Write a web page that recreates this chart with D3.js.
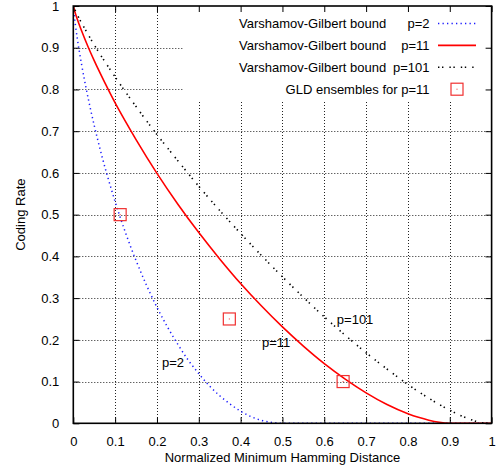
<!DOCTYPE html>
<html><head><meta charset="utf-8">
<script src="https://cdn.jsdelivr.net/npm/d3@7"></script>
<style>
html,body{margin:0;padding:0;background:#fff;}
svg text{font-family:"Liberation Sans",Arial,sans-serif;font-size:13px;fill:#000;}
</style></head>
<body><svg id="chart" width="502" height="470"></svg>
<script>
// ---- data ----
const distP2 = [0, 0.002, 0.005, 0.01, 0.02, 0.03, 0.04, 0.05, 0.06, 0.07, 0.08, 0.09, 0.1, 0.125, 0.15, 0.175, 0.2, 0.225, 0.25, 0.275, 0.3, 0.325, 0.35, 0.375, 0.4, 0.425, 0.45, 0.475, 0.5, 1.0];
const rateP2 = [1, 0.979, 0.955, 0.919, 0.859, 0.806, 0.758, 0.714, 0.673, 0.634, 0.598, 0.564, 0.531, 0.456, 0.390, 0.331, 0.278, 0.231, 0.189, 0.151, 0.119, 0.090, 0.066, 0.046, 0.029, 0.016, 0.007, 0.002, 0, 0];
const distP11 = [0, 0.005, 0.01, 0.02, 0.035, 0.05, 0.075, 0.1, 0.125, 0.15, 0.2, 0.25, 0.3, 0.35, 0.4, 0.45, 0.5, 0.55, 0.6, 0.65, 0.7, 0.75, 0.8, 0.825, 0.85, 0.875, 0.9, 0.909, 1.0];
const rateP11 = [1, 0.982, 0.967, 0.940, 0.903, 0.869, 0.817, 0.768, 0.723, 0.680, 0.599, 0.525, 0.457, 0.394, 0.335, 0.281, 0.231, 0.185, 0.143, 0.106, 0.073, 0.045, 0.023, 0.0144, 0.0075, 0.0027, 0.0002, 0, 0];
const distP101 = [0, 0.01, 0.025, 0.05, 0.1, 0.15, 0.2, 0.25, 0.3, 0.35, 0.4, 0.45, 0.5, 0.55, 0.6, 0.65, 0.7, 0.75, 0.8, 0.85, 0.875, 0.9, 0.925, 0.95, 0.97, 0.99, 1.0];
const rateP101 = [1, 0.978, 0.950, 0.907, 0.830, 0.759, 0.692, 0.629, 0.568, 0.510, 0.455, 0.402, 0.351, 0.302, 0.255, 0.211, 0.169, 0.130, 0.093, 0.060, 0.045, 0.0315, 0.019, 0.009, 0.003, 0, 0];
const gldDist = [0.112, 0.373, 0.645];
const gldRate = [0.5, 0.25, 0.1];
const xTicks = [0, 0.1, 0.2, 0.3, 0.4, 0.5, 0.6, 0.7, 0.8, 0.9, 1];
const yTicks = [0, 0.1, 0.2, 0.3, 0.4, 0.5, 0.6, 0.7, 0.8, 0.9, 1];
const legendLeft = ["Varshamov-Gilbert bound", "Varshamov-Gilbert bound", "Varshamov-Gilbert bound", ""];
const legendRight = ["p=2", "p=11", "p=101", "GLD ensembles for p=11"];
const curveLabels = ["p=2", "p=11", "p=101"];
const curveLabelX = [0.212, 0.451, 0.630];
const curveLabelY = [0.135, 0.184, 0.237];
const xTitle = "Normalized Minimum Hamming Distance";
const yTitle = "Coding Rate";

// ---- layout ----
const L = 73.3, R = 491.6, T = 6, B = 423.3;
const svg = d3.select("#chart");
const x = d3.scaleLinear().domain([0, 1]).range([L, R]);
const y = d3.scaleLinear().domain([0, 1]).range([B, T]);

svg.append("defs").append("clipPath").attr("id", "clip")
  .append("rect").attr("x", L).attr("y", T).attr("width", R - L).attr("height", B - T);

// grid
const grid = svg.append("g").attr("stroke", "#222").attr("stroke-width", 1).attr("stroke-dasharray", "1,2");
grid.selectAll("line.v").data(xTicks.slice(1, -1)).join("line")
  .attr("x1", d => Math.round(x(d)) + 0.5).attr("x2", d => Math.round(x(d)) + 0.5)
  .attr("y1", T).attr("y2", B);
grid.selectAll("line.h").data(yTicks.slice(1, -1)).join("line")
  .attr("y1", d => Math.round(y(d)) + 0.5).attr("y2", d => Math.round(y(d)) + 0.5)
  .attr("x1", L).attr("x2", R);

// opaque legend box
svg.append("rect").attr("x", 183).attr("y", T).attr("width", R - 183 - 1).attr("height", 100 - T).attr("fill", "#fff");

// curves
const line = d3.line().x(d => x(d[0])).y(d => y(d[1])).curve(d3.curveMonotoneX);
const plot = svg.append("g").attr("clip-path", "url(#clip)");
const series = [
  {xs: distP2, ys: rateP2, color: "#1a1aff", width: 1.5, dash: "1.3,3.2"},
  {xs: distP11, ys: rateP11, color: "#ff0000", width: 1.6, dash: null},
  {xs: distP101, ys: rateP101, color: "#000", width: 1.6, dash: "1.4,2.6,1.4,6"}
];
series.forEach(s => {
  plot.append("path").datum(d3.zip(s.xs, s.ys))
    .attr("d", line).attr("fill", "none").attr("stroke", s.color)
    .attr("stroke-width", s.width).attr("stroke-dasharray", s.dash);
});

// GLD points
const pts = svg.append("g");
d3.zip(gldDist, gldRate).forEach(([dx, dy]) => {
  pts.append("rect").attr("x", x(dx) - 6).attr("y", y(dy) - 6).attr("width", 12).attr("height", 12)
    .attr("fill", "none").attr("stroke", "#f03030").attr("stroke-width", 1.2);
  pts.append("rect").attr("x", x(dx) - 0.5).attr("y", y(dy) - 0.5).attr("width", 1).attr("height", 1).attr("fill", "#f03030");
});

// curve labels
svg.selectAll("text.cl").data(curveLabels).join("text")
  .attr("x", (d, i) => x(curveLabelX[i])).attr("y", (d, i) => y(curveLabelY[i])).text(d => d);

// legend
const rowY = [23.5, 45.4, 67.3, 89.2];
legendLeft.forEach((t, i) => {
  if (t) svg.append("text").attr("x", 239).attr("y", rowY[i] + 4.6).text(t);
  svg.append("text").attr("x", 429.5).attr("y", rowY[i] + 4.6).attr("text-anchor", "end").text(legendRight[i]);
});
series.forEach((s, i) => {
  svg.append("line").attr("x1", 438).attr("x2", 476).attr("y1", rowY[i]).attr("y2", rowY[i])
    .attr("stroke", s.color).attr("stroke-width", s.width).attr("stroke-dasharray", s.dash);
});
svg.append("rect").attr("x", 457 - 6).attr("y", rowY[3] - 6).attr("width", 12).attr("height", 12)
  .attr("fill", "none").attr("stroke", "#f03030").attr("stroke-width", 1.2);
svg.append("rect").attr("x", 456.5).attr("y", rowY[3] - 0.5).attr("width", 1).attr("height", 1).attr("fill", "#f03030");

// axes (ticks inward, mirrored)
const tl = 6;
const fmt = d => d === 0 ? "0" : d === 1 ? "1" : d3.format(".1f")(d);
const axB = svg.append("g").attr("transform", `translate(0,${B})`)
  .call(d3.axisBottom(x).tickValues(xTicks).tickFormat(fmt).tickSizeInner(-tl).tickSizeOuter(0).tickPadding(13));
const axT = svg.append("g").attr("transform", `translate(0,${T})`)
  .call(d3.axisTop(x).tickValues(xTicks).tickFormat("").tickSizeInner(-tl).tickSizeOuter(0));
const axL = svg.append("g").attr("transform", `translate(${L},0)`)
  .call(d3.axisLeft(y).tickValues(yTicks).tickFormat(fmt).tickSizeInner(-tl).tickSizeOuter(0).tickPadding(14));
const axR = svg.append("g").attr("transform", `translate(${R},0)`)
  .call(d3.axisRight(y).tickValues(yTicks).tickFormat("").tickSizeInner(-tl).tickSizeOuter(0));
[axB, axT, axL, axR].forEach(a => {
  a.select(".domain").remove();
  a.selectAll("line").attr("stroke", "#000").attr("stroke-width", 1);
  a.selectAll("text").attr("font-family", null).attr("font-size", null).attr("fill", "#000");
});

// border
svg.append("rect").attr("x", L).attr("y", T).attr("width", R - L).attr("height", B - T)
  .attr("fill", "none").attr("stroke", "#000").attr("stroke-width", 1.6);

// titles
svg.append("text").attr("x", (L + R) / 2).attr("y", 461.5).attr("text-anchor", "middle").text(xTitle);
svg.append("text").attr("transform", `translate(24.5,${(T + B) / 2}) rotate(-90)`)
  .attr("text-anchor", "middle").text(yTitle);
</script></body></html>
